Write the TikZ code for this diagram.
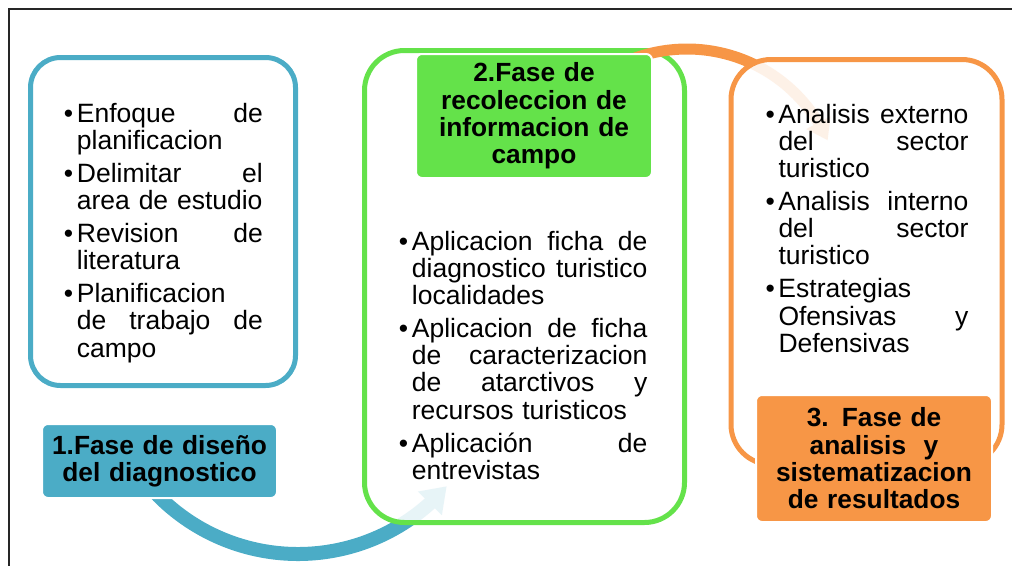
\documentclass[tikz,border=0pt]{standalone}
\usepackage{fontspec}
\setmainfont{Liberation Sans}
\usetikzlibrary{arrows.meta,bending,calc}
\definecolor{cblue}{HTML}{4BACC6}
\definecolor{cgreen}{RGB}{100,226,74}
\definecolor{corange}{HTML}{F79646}
\newcommand\bitem[1]{\par\hangindent=13pt\hangafter=1\noindent\makebox[13pt][l]{•}#1}
\newcommand\bsep{\par\vspace{5.8pt}}
\newcommand\nl{\hfil\break}
\begin{document}
\begin{tikzpicture}[x=1pt,y=-1pt,
  obox/.style={draw=#1, line width=5pt, fill=white, fill opacity=0.87, inner sep=0pt},
  phase/.style={fill=#1, draw=white, line width=2pt, rounded corners=6pt, inner sep=0pt,
    text width=226pt, align=center, text=black,
    font=\bfseries\fontsize{26.3}{27.3}\selectfont},
  btext/.style={inner sep=0pt, anchor=north west, text=black,
    font=\fontsize{26.5}{27.2}\selectfont},
  arcarrow/.style={draw=#1, line cap=butt}
]
\useasboundingbox (0,0) rectangle (1012,565);
% frame
\draw[black!85, line width=1.6pt] (9,9) rectangle (1040,600);

% arc centres and arc start points
\coordinate (bc) at (298,357);
\coordinate (bstart) at ($(bc)+(140:197)$);
\coordinate (oc) at (687,203);
\coordinate (ostart) at ($(oc)+(245:154)$);

% blue connector (phase 1 -> phase 2)
\draw[arcarrow=cblue, line width=14pt, -{Triangle[width=32pt,length=24pt]}]
  (bstart) arc[start angle=140, end angle=41, radius=197];

% green box
\node[obox=cgreen, rounded corners=40pt, minimum width=320pt, minimum height=472pt]
  (box2) at (524.5,286.5) {};

% orange connector (phase 2 -> phase 3)
\draw[arcarrow=corange, line width=11pt, -{Triangle[width=26pt,length=20pt]}]
  (ostart) arc[start angle=245, end angle=336, radius=154];

% orange box
\node[obox=corange, rounded corners=40pt, minimum width=271pt, minimum height=405pt]
  (box3) at (866.5,262) {};

% blue box
\node[obox=cblue, rounded corners=30pt, minimum width=265pt, minimum height=328pt]
  (box1) at (163,221.5) {};

% phase labels
\node[phase=cblue, minimum width=235pt, minimum height=74pt] (ph1) at (159.5,461)
  {1.Fase de diseño\\del diagnostico};
\node[phase=cgreen, minimum width=236pt, minimum height=124pt] (ph2) at (534,116)
  {2.Fase de\\recoleccion de\\informacion de\\campo};
\node[phase=corange, minimum width=236pt, minimum height=127pt] (ph3) at (874,458.5)
  {3. Fase de\\analisis\ \ y\\sistematizacion\\de resultados};

% body texts
\node[btext, text width=199pt] (t1) at (63.7,94.6) {%
\bitem{Enfoque\hfill de\nl planificacion}\bsep
\bitem{Delimitar\hfill el\nl area de estudio}\bsep
\bitem{Revision\hfill de\nl literatura}\bsep
\bitem{Planificacion\nl de\hfill trabajo\hfill de\nl campo}\par};

\node[btext, text width=248.5pt] (t2) at (398.7,222.6) {%
\bitem{Aplicacion\hfill ficha\hfill de\nl diagnostico\hfill turistico\nl localidades}\bsep
\bitem{Aplicacion\hfill de\hfill ficha\nl de\hfill caracterizacion\nl de\hfill atarctivos\hfill y\nl recursos turisticos}\bsep
\bitem{Aplicación\hfill de\nl entrevistas}\par};

\node[btext, text width=203pt] (t3) at (765.3,95.6) {%
\bitem{Analisis\hfill externo\nl del\hfill sector\nl turistico}\bsep
\bitem{Analisis\hfill interno\nl del\hfill sector\nl turistico}\bsep
\bitem{Estrategias\nl Ofensivas\hfill y\nl Defensivas}\par};
\end{tikzpicture}
\end{document}
